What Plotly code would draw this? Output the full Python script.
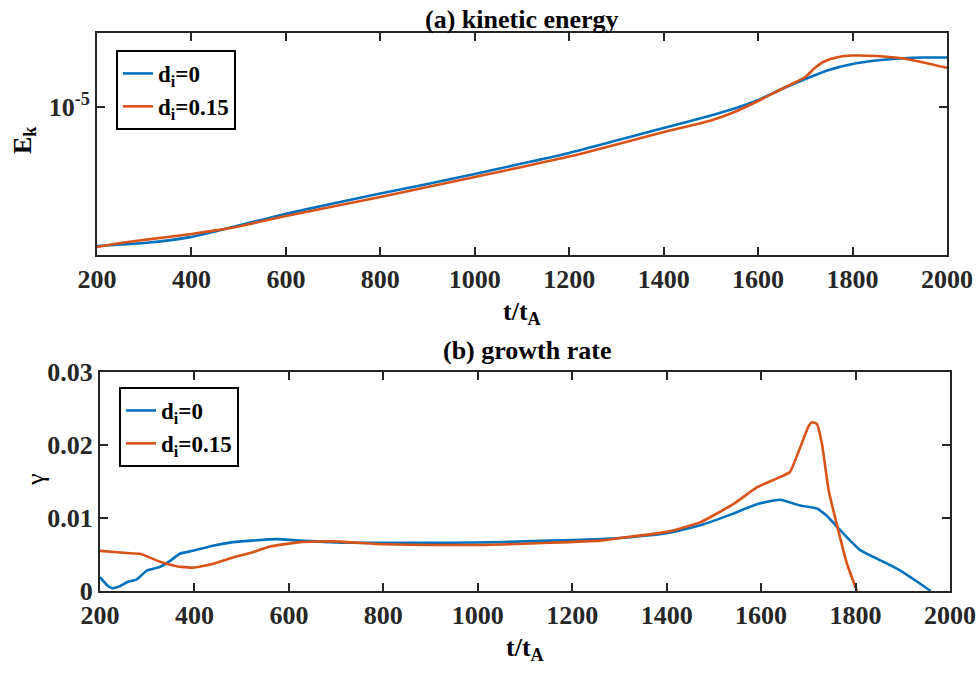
import math
import plotly.graph_objects as go

# ---------- data ----------
t_ek_blue = [200, 300, 400, 500, 600, 700, 800, 900, 1000, 1100, 1200, 1300, 1400, 1500,
             1550, 1600, 1650, 1700, 1750, 1800, 1850, 1900, 1950, 2000]
ek_blue = [2.365e-6, 2.44e-6, 2.60e-6, 2.925e-6, 3.30e-6, 3.675e-6, 4.076e-6, 4.50e-6, 4.99e-6,
           5.56e-6, 6.21e-6, 7.06e-6, 8.04e-6, 9.16e-6, 9.84e-6, 1.075e-5, 1.205e-5, 1.337e-5,
           1.468e-5, 1.562e-5, 1.62e-5, 1.653e-5, 1.670e-5, 1.670e-5]

t_ek_orange = [200, 250, 300, 400, 470, 500, 600, 700, 800, 900, 1000, 1100, 1200, 1300, 1400,
               1500, 1550, 1600, 1650, 1680, 1700, 1720, 1740, 1770, 1800, 1850, 1900, 1950, 2000]
ek_orange = [2.34e-6, 2.44e-6, 2.52e-6, 2.68e-6, 2.82e-6, 2.895e-6, 3.23e-6, 3.56e-6, 3.93e-6,
             4.36e-6, 4.84e-6, 5.37e-6, 5.98e-6, 6.78e-6, 7.715e-6, 8.70e-6, 9.49e-6, 1.064e-5,
             1.205e-5, 1.296e-5, 1.365e-5, 1.499e-5, 1.603e-5, 1.679e-5, 1.705e-5, 1.697e-5,
             1.662e-5, 1.586e-5, 1.499e-5]

t_g_blue = [200, 215, 225, 240, 257, 278, 299, 327, 350, 369, 397, 439, 482, 520, 574, 624, 730,
            850, 942, 1050, 1153, 1259, 1329, 1400, 1471, 1541, 1591, 1640, 1683, 1718, 1739,
            1768, 1810, 1859, 1895, 1930, 1959]
g_blue = [0.0019, 0.0008, 0.0004, 0.0006, 0.0012, 0.0016, 0.0028, 0.0033, 0.0042, 0.0051, 0.0055,
          0.0062, 0.0067, 0.0069, 0.0071, 0.0069, 0.0066, 0.0066, 0.0066, 0.0067, 0.0069, 0.0071,
          0.0074, 0.0079, 0.0090, 0.0106, 0.0119, 0.0125, 0.0117, 0.0113, 0.0103, 0.0083, 0.0056,
          0.0040, 0.0028, 0.0013, 0.0]

t_g_orange = [200, 257, 285, 327, 362, 397, 439, 482, 518, 560, 624, 695, 801, 906, 1012, 1153,
              1259, 1294, 1400, 1471, 1541, 1591, 1633, 1661, 1683, 1700, 1708, 1718, 1729, 1743,
              1760, 1782, 1803]
g_orange = [0.0055, 0.0052, 0.0051, 0.0040, 0.0034, 0.0032, 0.0037, 0.0046, 0.0052, 0.0061, 0.0067,
            0.0068, 0.0064, 0.0063, 0.0063, 0.0066, 0.0069, 0.0072, 0.0081, 0.0094, 0.0119, 0.0142,
            0.0154, 0.0163, 0.0197, 0.0225, 0.0231, 0.0229, 0.0201, 0.0138, 0.0092, 0.0037, 0.0]

x_ticks = [200, 400, 600, 800, 1000, 1200, 1400, 1600, 1800, 2000]
g_ticks = [0, 0.01, 0.02, 0.03]
g_ticktext = ["0", "0.01", "0.02", "0.03"]
ek_ticks = [1e-5]
ek_ticktext = ["10<sup>-5</sup>"]
legend_names = ["d<sub>i</sub>=0", "d<sub>i</sub>=0.15"]

# zoom box (t range and Ek range)
box_t = [1625, 1941]
box_ek = [9.8e-6, 1.98e-5]

BLUE = "#0072BD"
ORANGE = "#D95319"
AX = "#262626"
FONT = "Liberation Serif"
W, H = 980, 673


def px(x):
    return x / W


def py(y):
    return 1 - y / H


fig = go.Figure()
fig.add_trace(go.Scatter(x=t_ek_blue, y=ek_blue, name=legend_names[0], mode="lines",
                         line=dict(color=BLUE, width=2.6, shape="spline", smoothing=0.6),
                         xaxis="x", yaxis="y", legend="legend"))
fig.add_trace(go.Scatter(x=t_ek_orange, y=ek_orange, name=legend_names[1], mode="lines",
                         line=dict(color=ORANGE, width=2.6, shape="spline", smoothing=0.6),
                         xaxis="x", yaxis="y", legend="legend"))
fig.add_trace(go.Scatter(x=t_g_blue, y=g_blue, name=legend_names[0], mode="lines",
                         line=dict(color=BLUE, width=2.6, shape="spline", smoothing=0.5),
                         xaxis="x2", yaxis="y2", legend="legend2"))
fig.add_trace(go.Scatter(x=t_g_orange, y=g_orange, name=legend_names[1], mode="lines",
                         line=dict(color=ORANGE, width=2.6, shape="spline", smoothing=0.4),
                         xaxis="x2", yaxis="y2", legend="legend2"))

tickfont = dict(family=FONT, size=26, color=AX, weight="bold")
common = dict(showline=True, linecolor=AX, linewidth=2, mirror="allticks", ticks="inside",
              ticklen=8, tickwidth=2, tickcolor=AX, showgrid=False, zeroline=False,
              tickfont=tickfont, automargin=False)

fig.update_layout(
    template="none",
    width=W, height=H, margin=dict(l=0, r=0, t=0, b=0, autoexpand=False),
    paper_bgcolor="white", plot_bgcolor="white",
    font=dict(family=FONT),
    xaxis=dict(domain=[px(97), px(947)], range=[200, 2000], tickvals=x_ticks, anchor="y", **common),
    yaxis=dict(domain=[py(255), py(33)], type="log", range=[-5.6667, -4.6667], tickvals=ek_ticks,
               ticktext=ek_ticktext, anchor="x", **common),
    xaxis2=dict(domain=[px(100), px(950)], range=[200, 2000], tickvals=x_ticks, anchor="y2", **common),
    yaxis2=dict(domain=[py(591), py(372)], range=[0, 0.03], tickvals=g_ticks, ticktext=g_ticktext,
                anchor="x2", **common),
    legend=dict(x=px(116), y=py(50), xanchor="left", yanchor="top", bgcolor="white",
                bordercolor="black", borderwidth=2,
                font=dict(family=FONT, size=23, color="black", weight="bold")),
    legend2=dict(x=px(119), y=py(387), xanchor="left", yanchor="top", bgcolor="white",
                 bordercolor="black", borderwidth=2,
                 font=dict(family=FONT, size=23, color="black", weight="bold")),
    showlegend=True,
)

fig.add_shape(type="rect", xref="x", yref="y", x0=box_t[0], x1=box_t[1],
              y0=math.log10(box_ek[0]), y1=math.log10(box_ek[1]),
              line=dict(color="black", width=2.5))

ann_font = dict(family=FONT, size=26, color="black", weight="bold")
annotations = [
    dict(text="(a) kinetic energy", x=px(522), y=py(19)),
    dict(text="(b) growth rate", x=px(527), y=py(350)),
    dict(text="t/t<sub>A</sub>", x=px(522), y=py(313)),
    dict(text="t/t<sub>A</sub>", x=px(525), y=py(649)),
]
for a in annotations:
    fig.add_annotation(xref="paper", yref="paper", showarrow=False, font=ann_font,
                       xanchor="center", yanchor="middle", **a)
fig.add_annotation(text="E<sub>k</sub>", xref="paper", yref="paper", x=px(24), y=py(140),
                   showarrow=False, textangle=-90, font=ann_font, xanchor="center", yanchor="middle")
fig.add_annotation(text="γ", xref="paper", yref="paper", x=px(35), y=py(480),
                   showarrow=False, textangle=-90,
                   font=dict(family=FONT, size=26, color="black"), xanchor="center", yanchor="middle")

fig.write_html("out.html")
